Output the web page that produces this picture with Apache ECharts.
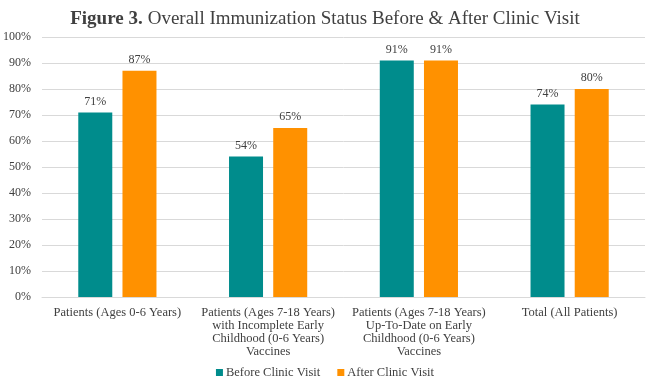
<!DOCTYPE html>
<html>
<head>
<meta charset="utf-8">
<script src="https://cdn.jsdelivr.net/npm/echarts@6/dist/echarts.min.js"></script>
<style>html,body{margin:0;padding:0;background:#fff}#c{width:650px;height:384px}</style>
</head>
<body>
<div id="c"></div>
<script>
var categories = [
  'Patients (Ages 0-6 Years)',
  'Patients (Ages 7-18 Years)\nwith Incomplete Early\nChildhood (0-6 Years)\nVaccines',
  'Patients (Ages 7-18 Years)\nUp-To-Date on Early\nChildhood (0-6 Years)\nVaccines',
  'Total (All Patients)'
];
var beforeVisit = [71, 54, 91, 74];
var afterVisit = [87, 65, 91, 80];
var yTicks = [0, 10, 20, 30, 40, 50, 60, 70, 80, 90, 100];

var font = 'Liberation Serif, Times New Roman, serif';
var chart = echarts.init(document.getElementById('c'));
chart.setOption({
  animation: false,
  title: {
    text: '{b|Figure 3.} {n|Overall Immunization Status Before & After Clinic Visit}',
    left: 'center', top: 5,
    textStyle: {
      fontWeight: 'normal',
      rich: {
        b: {fontFamily: font, fontSize: 19, fontWeight: 'bold', color: '#404040'},
        n: {fontFamily: font, fontSize: 19, fontWeight: 'normal', color: '#404040'}
      }
    }
  },
  legend: {
    bottom: 0, left: 'center',
    itemWidth: 7, itemHeight: 7, itemGap: 17,
    icon: 'rect',
    textStyle: {fontFamily: font, fontSize: 12.5, color: '#404040', padding: [0, 0, 0, -2]},
    data: ['Before Clinic Visit', 'After Clinic Visit']
  },
  grid: {left: 42, right: 5, top: 37, bottom: 87},
  xAxis: {
    type: 'category', data: categories,
    axisLine: {lineStyle: {color: '#d9d9d9'}},
    axisTick: {show: false},
    axisLabel: {fontFamily: font, fontSize: 12.5, color: '#404040', lineHeight: 13, margin: 9, interval: 0}
  },
  yAxis: {
    type: 'value', min: yTicks[0], max: yTicks[yTicks.length - 1], interval: 10,
    axisLine: {show: false}, axisTick: {show: false},
    splitLine: {lineStyle: {color: '#d9d9d9'}},
    axisLabel: {fontFamily: font, fontSize: 12, color: '#404040', formatter: '{value}%', margin: 11}
  },
  series: [
    {
      name: 'Before Clinic Visit', type: 'bar', data: beforeVisit,
      barWidth: 34, barGap: '30%',
      itemStyle: {color: '#008C8C'},
      label: {show: true, position: 'top', distance: 5, formatter: '{c}%', fontFamily: font, fontSize: 12, color: '#404040'}
    },
    {
      name: 'After Clinic Visit', type: 'bar', data: afterVisit,
      barWidth: 34, barGap: '30%',
      itemStyle: {color: '#FF9100'},
      label: {show: true, position: 'top', distance: 5, formatter: '{c}%', fontFamily: font, fontSize: 12, color: '#404040'}
    }
  ]
});
</script>
</body>
</html>
